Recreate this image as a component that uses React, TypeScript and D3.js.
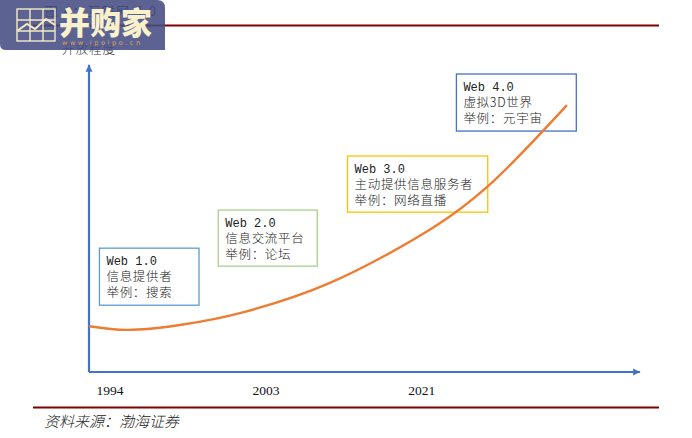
import React from 'react';
import * as d3 from 'd3';

const width = 692;
const height = 438;

// position along the time axis (0-100) and openness (0-100)
const curveX = [0, 6.9, 16.5, 28.5, 43.8, 63.3, 72.4, 86.9];
const curveY = [15, 13.8, 15.4, 19.8, 29.2, 48.2, 60.7, 87.5];

const years = ['1994', '2003', '2021'];
const yearPositions = [3.8, 32.2, 60.5];

const webTitles = ['Web 1.0', 'Web 2.0', 'Web 3.0', 'Web 4.0'];
const webRoles = ['信息提供者', '信息交流平台', '主动提供信息服务者', '虚拟3D世界'];
const webExamples = ['举例：搜索', '举例：论坛', '举例：网络直播', '举例：元宇宙'];
const boxColors = ['#5b9bd5', '#a9d18e', '#ffc000', '#4472c4'];
const boxX = [1.9, 23.5, 47, 66.8];
const boxTop = [40.6, 53.1, 70.8, 97.7];
const boxW = [18.1, 18, 25.5, 21.8];
const boxH = [18.7, 18.4, 18.4, 18.7];

const yAxisLabel = '开放程度';
const chartTitle = '图 4：互联网 4.0';
const source = '资料来源：渤海证券';
const logoName = '并购家';
const logoUrl = 'www.ipoipo.cn';

const cjk = '"Noto Sans CJK SC", sans-serif';
const axisBlue = '#4472c4';
const ruleRed = '#800000';

const x = d3.scaleLinear().domain([0, 100]).range([89, 639]);
const y = d3.scaleLinear().domain([0, 100]).range([372, 67]);

const App: React.FC = () => {
  const points = curveX.map((d, i) => [d, curveY[i]] as [number, number]);
  const line = d3
    .line<[number, number]>()
    .x((d) => x(d[0]))
    .y((d) => y(d[1]))
    .curve(d3.curveCatmullRom);

  return (
    <svg
      width={width}
      height={height}
      style={{ position: 'absolute', left: 0, top: 0, background: '#fff' }}
    >
      <defs>
        <marker
          id="arrow"
          markerUnits="userSpaceOnUse"
          markerWidth="8"
          markerHeight="8"
          refX="7"
          refY="4"
          orient="auto"
        >
          <path d="M0,0.5 L7,4 L0,7.5 Z" fill={axisBlue} />
        </marker>
      </defs>

      <text x={45} y={16} fontFamily={cjk} fontSize={13} letterSpacing={1.5} fill="#333">
        {chartTitle}
      </text>
      <line x1={33} x2={659} y1={25.5} y2={25.5} stroke={ruleRed} strokeWidth={2} />
      <text x={62} y={54} fontFamily={cjk} fontSize={12.5} letterSpacing={1} fill="#333" fontWeight={300}>
        {yAxisLabel}
      </text>

      {/* axes */}
      <line
        x1={x(0)}
        x2={x(0)}
        y1={y(0)}
        y2={y(100.7)}
        stroke={axisBlue}
        strokeWidth={2.2}
        markerEnd="url(#arrow)"
      />
      <line
        x1={x(0)}
        x2={x(100.2)}
        y1={y(0)}
        y2={y(0)}
        stroke={axisBlue}
        strokeWidth={2.2}
        markerEnd="url(#arrow)"
      />
      {years.map((d, i) => (
        <text
          key={d}
          x={x(yearPositions[i])}
          y={395}
          textAnchor="middle"
          fontFamily='"Liberation Serif", serif'
          fontSize={13.5}
          fill="#111"
        >
          {d}
        </text>
      ))}

      {/* stage boxes */}
      {webTitles.map((d, i) => {
        const left = x(boxX[i]);
        const top = y(boxTop[i]);
        return (
          <g key={d}>
            <rect
              x={left}
              y={top}
              width={x(boxW[i]) - x(0)}
              height={y(0) - y(boxH[i])}
              fill="#fff"
              stroke={boxColors[i]}
              strokeWidth={1.3}
            />
            <text
              x={left + 7}
              y={top + 17}
              fontFamily='"Liberation Mono", monospace'
              fontSize={12}
              fill="#222"
            >
              {d}
            </text>
            <text
              x={left + 7}
              y={top + 33}
              fontFamily={cjk}
              fontSize={12.5}
              letterSpacing={0.7}
              fill="#222"
              fontWeight={300}
            >
              {webRoles[i]}
            </text>
            <text
              x={left + 7}
              y={top + 49}
              fontFamily={cjk}
              fontSize={12.5}
              letterSpacing={0.7}
              fill="#222"
              fontWeight={300}
            >
              {webExamples[i]}
            </text>
          </g>
        );
      })}

      <path d={line(points) as string} fill="none" stroke="#ed7d31" strokeWidth={2.4} />

      {/* footer */}
      <line x1={33} x2={659} y1={407.5} y2={407.5} stroke={ruleRed} strokeWidth={2} />
      <text x={44} y={427} fontFamily={cjk} fontSize={15} fontStyle="italic" fill="#222" fontWeight={300}>
        {source}
      </text>

      {/* logo watermark */}
      <path d="M0,0 H157 Q165,0 165,8 V50 H6 Q0,50 0,44 Z" fill="#454d84" fillOpacity={0.88} />
      <g stroke="#f3eac4" strokeWidth={1.4} fill="none">
        <rect x={17} y={9} width={38} height={32} />
        <path d="M30,9 V41 M43,9 V41 M17,20 H55 M17,31 H55" />
        <path d="M17,31 L27,24 L35,29 L46,19 L55,25" strokeWidth={2} />
      </g>
      <text x={59} y={34} fontFamily={cjk} fontSize={31} fontWeight={900} fill="#f8f1cc">
        {logoName}
      </text>
      <text
        x={62}
        y={45}
        fontFamily='"DejaVu Sans", sans-serif'
        fontSize={6.5}
        letterSpacing={2.6}
        fill="#d9a45a"
      >
        {logoUrl}
      </text>
    </svg>
  );
};

export default App;
